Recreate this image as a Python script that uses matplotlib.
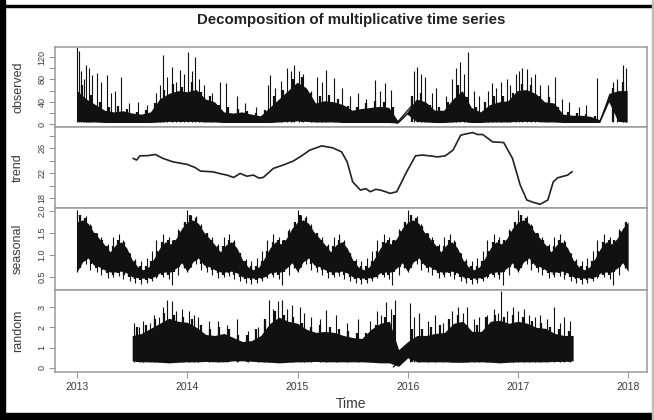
import numpy as np
import matplotlib
matplotlib.use("Agg")
import matplotlib.pyplot as plt
from matplotlib.patches import Rectangle

plt.rcParams["font.family"] = ["Liberation Sans", "DejaVu Sans"]

# observed: monthly core band (low / high), local peaks in between, single spikes
obs_time = 2013 + np.arange(61) / 12 * (4.99 / 5)
obs_top = [60, 45, 35, 25, 22, 24, 20, 18, 22, 45, 55, 60,
           58, 62, 45, 40, 22, 20, 22, 18, 15, 30, 45, 60,
           75, 65, 38, 42, 40, 35, 25, 28, 30, 32, 30, 6,
           22, 45, 40, 25, 25, 45, 60, 30, 22, 35, 40, 42,
           60, 62, 55, 40, 38, 18, 16, 16, 14, 8, 55, 60,
           60]
obs_low = [5, 4, 4, 3, 3, 3, 3, 3, 3, 4, 5, 5,
           5, 5, 4, 4, 3, 3, 3, 3, 3, 3, 4, 5,
           6, 5, 4, 4, 4, 3, 3, 3, 3, 3, 3, 2,
           18, 5, 4, 3, 3, 4, 5, 3, 3, 4, 4, 4,
           5, 5, 5, 4, 4, 3, 3, 3, 3, 3, 40, 5,
           4]
obs_mid = [70, 52, 40, 30, 32, 28, 22, 25, 38, 62, 72, 66,
           75, 58, 50, 35, 30, 28, 24, 20, 25, 50, 62, 80,
           85, 55, 50, 52, 45, 32, 30, 38, 42, 40, 30, 4,
           50, 55, 35, 30, 40, 70, 48, 30, 40, 50, 50, 55,
           72, 70, 50, 48, 30, 22, 20, 18, 15, 4, 65, 75]
obs_spike_t = [2013.00, 2013.02, 2013.04, 2013.06, 2013.08, 2013.11, 2013.14, 2013.18,
               2013.22, 2013.27, 2013.31, 2013.34, 2013.40, 2013.47, 2013.55, 2013.63,
               2013.72, 2013.75, 2013.78, 2013.82, 2013.86, 2013.90, 2013.93, 2013.97,
               2014.01, 2014.04, 2014.07, 2014.11, 2014.15, 2014.22, 2014.30, 2014.35,
               2014.45, 2014.52, 2014.62, 2014.73, 2014.75, 2014.80, 2014.85, 2014.90,
               2014.94, 2014.97, 2015.01, 2015.05, 2015.12, 2015.18, 2015.22, 2015.26,
               2015.33, 2015.40, 2015.48, 2015.55, 2015.62, 2015.70, 2015.75, 2015.79,
               2015.85, 2016.06, 2016.08, 2016.12, 2016.16, 2016.22, 2016.26, 2016.35,
               2016.40, 2016.44, 2016.47, 2016.51, 2016.55, 2016.60, 2016.65, 2016.73,
               2016.76, 2016.80, 2016.85, 2016.90, 2016.93, 2016.98, 2017.01, 2017.04,
               2017.08, 2017.12, 2017.15, 2017.20, 2017.27, 2017.34, 2017.40, 2017.46,
               2017.55, 2017.62, 2017.72, 2017.86, 2017.90, 2017.95, 2017.98]
obs_spike_v = [138, 130, 95, 80, 105, 100, 88, 92,
               75, 88, 55, 60, 84, 38, 40, 35,
               55, 70, 124, 85, 102, 75, 97, 90,
               129, 95, 120, 80, 70, 55, 75, 73,
               50, 38, 30, 70, 88, 65, 78, 100,
               95, 106, 95, 90, 60, 84, 75, 97,
               83, 65, 50, 55, 45, 79, 60, 73,
               62, 95, 102, 90, 85, 55, 64, 50,
               80, 100, 111, 90, 129, 60, 50, 60,
               73, 65, 75, 80, 70, 90, 95, 100,
               98, 85, 90, 70, 70, 84, 45, 40,
               30, 35, 83, 75, 80, 106, 100]
obs_gap_t = [[2015.90, 2016.04], [2017.74, 2017.83]]
obs_gap_v = [[2, 34], [4, 48]]

# trend (moving average)
trend_t = [2013.51, 2013.54, 2013.57, 2013.64, 2013.71, 2013.78, 2013.87, 2014.00, 2014.07,
           2014.12, 2014.23, 2014.30, 2014.36, 2014.42, 2014.48, 2014.54, 2014.60, 2014.65,
           2014.69, 2014.78, 2014.87, 2014.96, 2015.04, 2015.11, 2015.22, 2015.32, 2015.40,
           2015.45, 2015.50, 2015.57, 2015.62, 2015.66, 2015.71, 2015.75, 2015.80, 2015.84,
           2015.90, 2015.99, 2016.07, 2016.13, 2016.20, 2016.27, 2016.34, 2016.41, 2016.48,
           2016.53, 2016.59, 2016.63, 2016.68, 2016.77, 2016.87, 2016.95, 2017.02, 2017.08,
           2017.14, 2017.20, 2017.27, 2017.32, 2017.36, 2017.45, 2017.49]
trend_v = [24.35, 24.1, 24.77, 24.8, 24.99, 24.35, 23.81, 23.39, 22.9,
           22.32, 22.21, 21.9, 21.68, 21.3, 21.95, 21.5, 21.68, 21.2,
           21.31, 22.75, 23.3, 23.92, 24.8, 25.68, 26.37, 26.05, 25.4,
           23.81, 20.61, 19.28, 19.5, 19.01, 19.4, 19.28, 19.0, 18.75,
           19.01, 22.21, 24.77, 24.9, 24.77, 24.6, 24.77, 25.68, 28.08,
           28.3, 28.51, 28.2, 28.19, 27.01, 26.91, 24.35, 20.08, 17.68,
           17.3, 16.99, 17.68, 20.61, 21.25, 21.68, 22.21]

# seasonal figure for one year (decompose repeats it every year)
seas_frac = [0.00, 0.05, 0.10, 0.15, 0.20, 0.25, 0.30, 0.35, 0.40, 0.45,
             0.50, 0.55, 0.60, 0.65, 0.70, 0.75, 0.80, 0.85, 0.90, 0.95]
seas_top = [1.75, 1.80, 1.72, 1.52, 1.38, 1.23, 1.07, 1.23, 1.30, 1.16,
            0.89, 0.73, 0.66, 0.73, 0.93, 1.16, 1.30, 1.25, 1.38, 1.61]
seas_low = [0.62, 0.84, 0.93, 0.77, 0.73, 0.66, 0.61, 0.61, 0.63, 0.59,
            0.50, 0.48, 0.47, 0.48, 0.50, 0.59, 0.61, 0.61, 0.70, 0.82]
seas_mid_hi = [1.90, 1.85, 1.65, 1.50, 1.35, 1.20, 1.20, 1.35, 1.30, 1.05,
               0.85, 0.75, 0.75, 0.85, 1.10, 1.30, 1.35, 1.35, 1.55, 1.75]
seas_mid_lo = [0.70, 0.85, 0.80, 0.70, 0.65, 0.58, 0.55, 0.58, 0.55, 0.50,
               0.45, 0.42, 0.42, 0.45, 0.50, 0.55, 0.55, 0.60, 0.72, 0.70]
seas_spike_frac = [0.00, 0.03, 0.08, 0.12, 0.18, 0.22, 0.28, 0.33, 0.38, 0.42, 0.48,
                   0.53, 0.58, 0.63, 0.68, 0.72, 0.78, 0.83, 0.86, 0.92, 0.97]
seas_spike_hi = [2.02, 1.92, 1.88, 1.70, 1.50, 1.42, 1.25, 1.40, 1.48, 1.35, 1.05,
                 0.90, 0.85, 0.92, 1.10, 1.35, 1.48, 1.40, 1.35, 1.58, 1.75]
seas_spike_lo = [0.60, 0.72, 0.80, 0.65, 0.60, 0.55, 0.48, 0.50, 0.52, 0.45, 0.40,
                 0.36, 0.33, 0.36, 0.40, 0.48, 0.50, 0.45, 0.32, 0.55, 0.70]
seas_years = [2013, 2014, 2015, 2016, 2017]

# random component
rand_time = 2013.5 + np.arange(49) / 12
rand_top = [1.6, 1.7, 1.95, 2.2, 2.45, 2.3,
            2.25, 2.0, 1.65, 1.6, 1.7, 1.5, 1.3, 1.35, 1.6, 2.2, 2.5, 2.3,
            2.2, 1.9, 1.75, 1.8, 1.75, 1.6, 1.5, 1.45, 1.9, 2.2, 2.3, 0.9,
            1.3, 1.6, 1.6, 1.7, 1.75, 2.2, 2.3, 1.8, 1.8, 2.3, 2.35, 2.2,
            2.3, 2.2, 2.0, 1.95, 1.7, 1.6, 1.6]
rand_low = [0.35, 0.3, 0.3, 0.28, 0.25, 0.28,
            0.3, 0.3, 0.32, 0.3, 0.3, 0.35, 0.35, 0.33, 0.3, 0.28, 0.25, 0.28,
            0.3, 0.3, 0.32, 0.3, 0.3, 0.3, 0.3, 0.3, 0.28, 0.25, 0.25, 0.08,
            0.5, 0.3, 0.3, 0.3, 0.3, 0.28, 0.28, 0.3, 0.3, 0.28, 0.25, 0.28,
            0.3, 0.3, 0.3, 0.3, 0.32, 0.32, 0.35]
rand_mid = [2.0, 2.1, 2.4, 2.7, 2.6, 2.5,
            2.4, 2.1, 1.9, 2.0, 1.9, 1.6, 1.6, 1.9, 2.4, 2.8, 2.6, 2.5,
            2.2, 2.0, 2.1, 2.0, 1.9, 1.8, 1.7, 1.7, 2.1, 2.5, 2.6, 1.0,
            1.9, 1.9, 2.0, 2.1, 2.4, 2.6, 2.1, 2.1, 2.5, 2.6, 2.5, 2.6,
            2.5, 2.3, 2.2, 2.0, 1.9, 1.8]
rand_spike_t = [2013.52, 2013.56, 2013.60, 2013.66, 2013.70, 2013.74, 2013.78, 2013.82,
                2013.86, 2013.90, 2013.95, 2014.02, 2014.06, 2014.10, 2014.20, 2014.28,
                2014.36, 2014.45, 2014.55, 2014.64, 2014.70, 2014.74, 2014.78, 2014.82,
                2014.86, 2014.90, 2014.95, 2015.02, 2015.06, 2015.12, 2015.20, 2015.26,
                2015.35, 2015.45, 2015.55, 2015.66, 2015.72, 2015.76, 2015.80, 2015.85,
                2015.88, 2016.02, 2016.06, 2016.10, 2016.18, 2016.25, 2016.32, 2016.40,
                2016.46, 2016.50, 2016.54, 2016.60, 2016.65, 2016.72, 2016.78, 2016.82,
                2016.85, 2016.90, 2016.95, 2017.00, 2017.05, 2017.10, 2017.15, 2017.20,
                2017.26, 2017.33, 2017.38, 2017.42, 2017.47]
rand_spike_v = [2.2, 2.0, 2.3, 2.2, 2.6, 2.5, 3.0, 3.35,
                3.3, 2.8, 2.9, 2.8, 2.6, 2.5, 2.3, 2.3,
                2.1, 2.4, 1.8, 2.0, 2.2, 3.35, 2.9, 3.3,
                3.35, 2.9, 3.1, 3.0, 2.7, 2.5, 2.4, 2.86,
                2.6, 2.2, 2.4, 2.3, 2.8, 2.6, 3.25, 2.9,
                3.35, 3.2, 2.5, 2.7, 2.3, 2.6, 2.2, 2.8,
                3.0, 2.7, 3.0, 2.4, 2.5, 2.6, 2.9, 2.7,
                3.8, 2.8, 3.0, 2.8, 2.9, 2.6, 2.5, 2.6,
                2.4, 3.0, 2.2, 2.5, 2.3]
rand_gap_t = [2015.87, 2016.01]
rand_gap_v = [0.05, 0.8]

# ---- figure
fig = plt.figure(figsize=(6.54, 4.2), dpi=100)
W, H = 654, 420
left, right = 55, 647
panels = [(47, 127), (127, 208), (208, 290), (290, 372)]
axes = []
for top, bot in panels:
    ax = fig.add_axes([left / W, 1 - bot / H, (right - left) / W, (bot - top) / H])
    axes.append(ax)

frame_col = "#9a9a9a"
text_col = "#3a3a3a"
ink = "#111111"

ylims = [(-5, 138), (16.4, 29.4), (0.2, 2.07), (-0.2, 3.84)]
yticks = [[0, 20, 40, 60, 80, 100, 120], [18, 20, 22, 24, 26, 28],
          [0.5, 1.0, 1.5, 2.0], [0, 1, 2, 3]]
yticklabels = [["0", "", "40", "", "80", "", "120"], ["18", "", "22", "", "26", ""],
               ["0.5", "1.0", "1.5", "2.0"], ["0", "1", "2", "3"]]
names = ["observed", "trend", "seasonal", "random"]

for ax, yl, yt, ytl in zip(axes, ylims, yticks, yticklabels):
    ax.set_xlim(2012.8, 2018.17)
    ax.set_ylim(*yl)
    ax.set_yticks(yt)
    ax.set_yticklabels(ytl, rotation=90, va="center")
    ax.tick_params(axis="y", direction="out", length=4, width=0.8, color=frame_col,
                   labelsize=6.5, labelcolor=text_col, pad=2)
    for s in ax.spines.values():
        s.set_color(frame_col)
        s.set_linewidth(1.1)
    ax.set_xticks([2013, 2014, 2015, 2016, 2017, 2018])
    ax.tick_params(axis="x", direction="out", length=4, width=0.8, color=frame_col,
                   labelsize=7.5, labelcolor=text_col, pad=3)
    ax.tick_params(axis="x", labelbottom=False)
axes[3].tick_params(axis="x", labelbottom=True)

half = 1 / 24

# observed
ax = axes[0]
ax.fill_between(obs_time, obs_low, obs_top, color=ink, lw=0)
ax.vlines(obs_time[:-1] + half, 4, obs_mid, color=ink, lw=1.6)
ax.vlines(obs_spike_t, 4, obs_spike_v, color=ink, lw=0.8)
for gt, gv in zip(obs_gap_t, obs_gap_v):
    ax.plot(gt, gv, color=ink, lw=0.9)

# trend
axes[1].plot(trend_t, trend_v, color="#222222", lw=1.2)

# seasonal
ax = axes[2]
for yr in seas_years:
    tt = yr + np.array(seas_frac + [0.999 if yr == 2017 else 1.0])
    top_v = seas_top + [seas_top[0]]
    low_v = seas_low + [seas_low[0]]
    ax.fill_between(tt, low_v, top_v, color=ink, lw=0)
    ax.vlines(yr + np.array(seas_frac) + 0.025, seas_mid_lo, seas_mid_hi,
              color=ink, lw=1.6)
    ax.vlines(yr + np.array(seas_spike_frac), seas_spike_lo, seas_spike_hi,
              color=ink, lw=0.8)

# random
ax = axes[3]
ax.fill_between(rand_time, rand_low, rand_top, color=ink, lw=0)
ax.vlines(rand_time[:-1] + half, 0.3, rand_mid, color=ink, lw=1.6)
ax.vlines(rand_spike_t, 0.3, rand_spike_v, color=ink, lw=0.8)
ax.plot(rand_gap_t, rand_gap_v, color=ink, lw=0.9)

for (top, bot), name in zip(panels, names):
    fig.text(18 / W, 1 - (top + bot) / 2 / H, name, rotation=90, ha="center",
             va="center", fontsize=9, color=text_col)

fig.text(351 / W, 1 - 20 / H, "Decomposition of multiplicative time series",
         ha="center", va="center", fontsize=10.8, fontweight="bold", color="#222222")
fig.text(351 / W, 1 - 404 / H, "Time", ha="center", va="center", fontsize=10,
         color=text_col)

# black frame of the screenshot
fig.patches.append(Rectangle((0, 0), 5 / W, 1, transform=fig.transFigure,
                             color="black", zorder=10))
fig.patches.append(Rectangle((0, 1 - 7 / H), 1, 2 / H, transform=fig.transFigure,
                             color="black", zorder=10))
fig.patches.append(Rectangle((0, 0), 1, 7 / H, transform=fig.transFigure,
                             color="black", zorder=10))
fig.patches.append(Rectangle((1 - 2 / W, 0), 2 / W, 1, transform=fig.transFigure,
                             color="#bbbbbb", zorder=10))

fig.savefig("out.png", dpi=100)
